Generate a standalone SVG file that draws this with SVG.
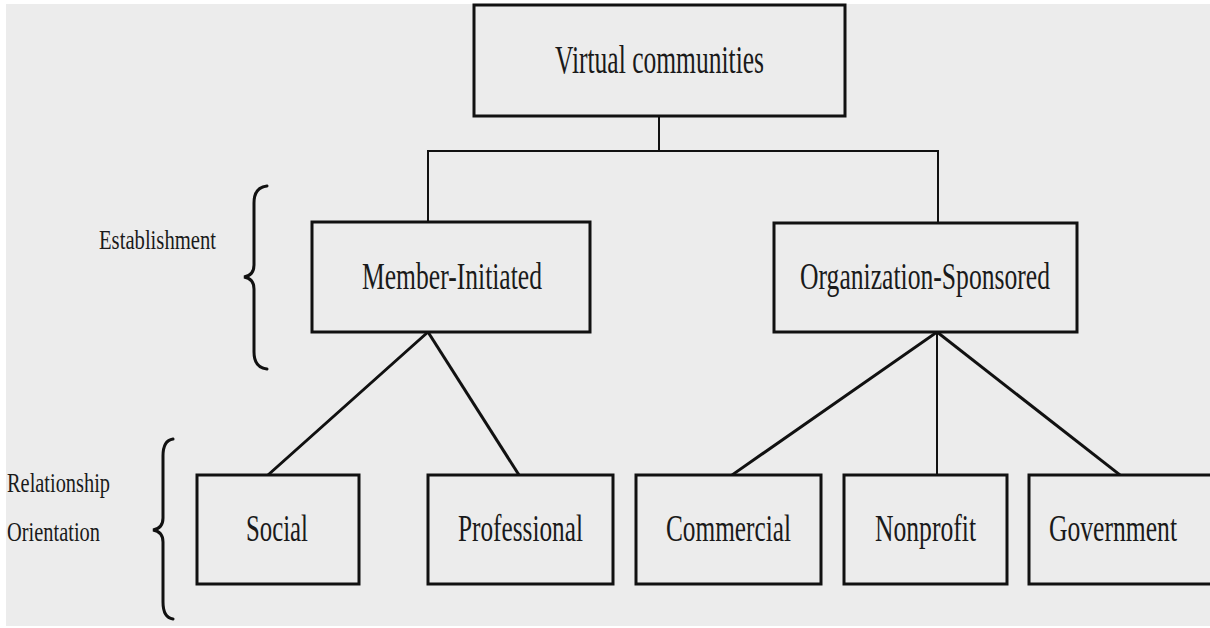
<svg xmlns="http://www.w3.org/2000/svg" width="1210" height="628" viewBox="0 0 1210 628">
  <style>
    .box { fill: #ececec; stroke: #111; stroke-width: 3; }
    .lbl { font-family: "Liberation Serif", "Times New Roman", serif; fill: #1a1a1a; }
    .big { font-size: 40px; }
    .mid { font-size: 37px; }
    .side { font-size: 27px; }
    .conn line { stroke: #111; stroke-linecap: square; }
    .thin { stroke-width: 2; }
    .thick { stroke-width: 3; }
    .brace { fill: none; stroke: #111; stroke-width: 3; stroke-linecap: round; }
  </style>
  <rect x="0" y="0" width="1210" height="628" fill="#ffffff"/>
  <rect x="6" y="4" width="1204" height="622" fill="#ececec"/>

  <g id="connectors" class="conn">
    <line class="thin" x1="659" y1="116" x2="659" y2="151"/>
    <line class="thin" x1="428" y1="151" x2="938" y2="151"/>
    <line class="thin" x1="428" y1="151" x2="428" y2="222"/>
    <line class="thin" x1="938" y1="151" x2="938" y2="223"/>
    <line class="thick" x1="428" y1="332" x2="268" y2="475"/>
    <line class="thick" x1="428" y1="332" x2="519" y2="475"/>
    <line class="thick" x1="937" y1="332" x2="732" y2="475"/>
    <line class="thin" x1="937" y1="332" x2="937" y2="475"/>
    <line class="thick" x1="937" y1="332" x2="1120" y2="475"/>
  </g>

  <g id="virtual-communities">
    <rect class="box" x="474" y="5" width="371" height="111"/>
    <text class="lbl big" x="555" y="73" textLength="209" lengthAdjust="spacingAndGlyphs">Virtual communities</text>
  </g>
  <g id="member-initiated">
    <rect class="box" x="312" y="222" width="278" height="110"/>
    <text class="lbl mid" x="362" y="289" textLength="180" lengthAdjust="spacingAndGlyphs">Member-Initiated</text>
  </g>
  <g id="organization-sponsored">
    <rect class="box" x="774" y="223" width="303" height="109"/>
    <text class="lbl mid" x="800" y="289" textLength="250" lengthAdjust="spacingAndGlyphs">Organization-Sponsored</text>
  </g>
  <g id="social">
    <rect class="box" x="197" y="475" width="162" height="109"/>
    <text class="lbl mid" x="246" y="541" textLength="62" lengthAdjust="spacingAndGlyphs">Social</text>
  </g>
  <g id="professional">
    <rect class="box" x="428" y="475" width="185" height="109"/>
    <text class="lbl mid" x="458" y="541" textLength="125" lengthAdjust="spacingAndGlyphs">Professional</text>
  </g>
  <g id="commercial">
    <rect class="box" x="636" y="475" width="185" height="109"/>
    <text class="lbl mid" x="666" y="541" textLength="125" lengthAdjust="spacingAndGlyphs">Commercial</text>
  </g>
  <g id="nonprofit">
    <rect class="box" x="844" y="475" width="163" height="109"/>
    <text class="lbl mid" x="875" y="541" textLength="101" lengthAdjust="spacingAndGlyphs">Nonprofit</text>
  </g>
  <g id="government">
    <path class="box" d="M1210,475 L1029,475 L1029,584 L1210,584"/>
    <text class="lbl mid" x="1049" y="541" textLength="128" lengthAdjust="spacingAndGlyphs">Government</text>
  </g>

  <g id="establishment-label">
    <text class="lbl side" x="99" y="249" textLength="117" lengthAdjust="spacingAndGlyphs">Establishment</text>
    <path class="brace" d="M267,186 C258,187 254,193 254,203 L254,265 C254,272 250,276 244,277 C250,278 254,282 254,289 L254,352 C254,362 258,368 267,369"/>
  </g>
  <g id="relationship-label">
    <text class="lbl side" x="7" y="492" textLength="103" lengthAdjust="spacingAndGlyphs">Relationship</text>
    <text class="lbl side" x="7" y="541" textLength="93" lengthAdjust="spacingAndGlyphs">Orientation</text>
    <path class="brace" d="M173,439 C166,440 163,446 163,456 L163,518 C163,525 159,529 153,530 C159,531 163,535 163,542 L163,602 C163,612 166,618 173,619"/>
  </g>
</svg>
